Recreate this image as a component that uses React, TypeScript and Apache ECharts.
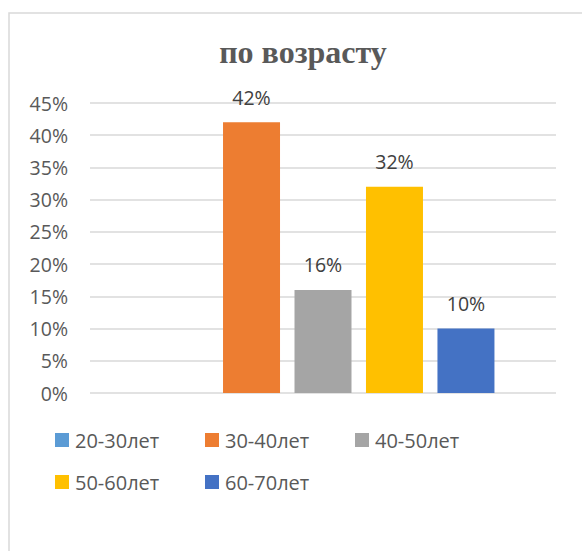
import React, { useEffect, useRef } from "react";
import * as echarts from "echarts";

const titleText = "по возрасту";
const categories = [""];
const seriesNames = ["20-30лет", "30-40лет", "40-50лет", "50-60лет", "60-70лет"];
const seriesValues = [0, 42, 16, 32, 10];
const seriesColors = ["#5B9BD5", "#ED7D31", "#A5A5A5", "#FFC000", "#4472C4"];
const yMin = 0;
const yMax = 45;
const yInterval = 5;

export default function App() {
  const ref = useRef<HTMLDivElement>(null);
  useEffect(() => {
    if (!ref.current) return;
    const chart = echarts.init(ref.current, undefined, { renderer: "svg" });
    const font = "'Open Sans', sans-serif";
    chart.setOption({
      animation: false,
      backgroundColor: "#ffffff",
      title: {
        text: titleText,
        left: 298,
        top: 31,
        textAlign: "center",
        textStyle: {
          fontFamily: "'Liberation Serif', 'Times New Roman', serif",
          fontWeight: "bold",
          fontSize: 32,
          color: "#595959",
        },
      },
      graphic: [
        {
          type: "rect",
          shape: { x: 9, y: 13, width: 640, height: 620 },
          style: { fill: "none", stroke: "#d9d9d9", lineWidth: 1.5 },
          silent: true,
        },
      ],
      grid: { left: 90, right: 26, top: 103, bottom: 158 },
      xAxis: {
        type: "category",
        data: categories,
        axisLine: { show: false },
        axisTick: { show: false },
        axisLabel: { show: false },
      },
      yAxis: {
        type: "value",
        min: yMin,
        max: yMax,
        interval: yInterval,
        axisLine: { show: false },
        axisTick: { show: false },
        axisLabel: {
          formatter: "{value}%",
          fontFamily: font,
          fontSize: 19.5,
          color: "#595959",
          margin: 22,
        },
        splitLine: { lineStyle: { color: "#d9d9d9", width: 1.5 } },
      },
      legend: {
        data: seriesNames,
        left: 55,
        top: 422,
        width: 470,
        padding: 0,
        itemWidth: 14,
        itemHeight: 14,
        itemGap: 6,
        icon: "rect",
        textStyle: {
          fontFamily: font,
          fontSize: 20,
          color: "#595959",
          width: 124,
          lineHeight: 36,
          padding: [0, 0, 0, 1],
        },
      },
      series: seriesNames.map((name, i) => ({
        name,
        type: "bar",
        data: [seriesValues[i]],
        barWidth: 57,
        barGap: "25.4%",
        itemStyle: { color: seriesColors[i] },
        label: {
          show: true,
          position: "top",
          distance: 15,
          fontFamily: font,
          fontSize: 19.5,
          color: "#404040",
          formatter: (p: any) => (p.value ? p.value + "%" : ""),
        },
      })),
    });
    return () => chart.dispose();
  }, []);
  return (
    <div
      ref={ref}
      style={{ position: "absolute", left: 0, top: 0, width: 582, height: 551 }}
    />
  );
}
